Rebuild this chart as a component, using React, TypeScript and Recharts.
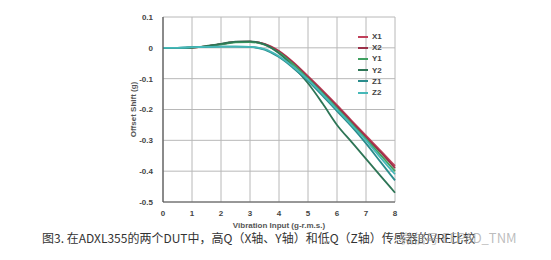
import React from 'react';
import { LineChart, Line, XAxis, YAxis, CartesianGrid, Label } from 'recharts';

const xValues = [0, 0.5, 1, 1.5, 2, 2.5, 3, 3.5, 4, 4.5, 5, 5.5, 6, 6.5, 7, 7.5, 8];
const x1 = [0, 0, 0.001, 0.005, 0.012, 0.019, 0.02, 0.013, -0.01, -0.047, -0.092, -0.138, -0.186, -0.236, -0.285, -0.333, -0.383];
const x2 = [0, 0, 0.001, 0.005, 0.012, 0.019, 0.02, 0.012, -0.012, -0.05, -0.095, -0.142, -0.19, -0.24, -0.29, -0.338, -0.39];
const y1 = [0, 0, 0.001, 0.005, 0.011, 0.018, 0.019, 0.01, -0.015, -0.054, -0.1, -0.147, -0.196, -0.246, -0.296, -0.347, -0.4];
const y2 = [0, 0, 0.001, 0.006, 0.013, 0.02, 0.021, 0.011, -0.018, -0.062, -0.115, -0.18, -0.25, -0.305, -0.36, -0.415, -0.47];
const z1 = [0, 0, 0.002, 0.003, 0.004, 0.004, 0.003, -0.006, -0.03, -0.066, -0.107, -0.155, -0.205, -0.255, -0.31, -0.37, -0.43];
const z2 = [0, 0, 0.002, 0.003, 0.004, 0.004, 0.003, -0.004, -0.027, -0.062, -0.103, -0.15, -0.2, -0.25, -0.3, -0.356, -0.41];

const seriesNames = ['X1', 'X2', 'Y1', 'Y2', 'Z1', 'Z2'];
const seriesValues = [x1, x2, y1, y2, z1, z2];
const seriesColors = ['#c0405a', '#9a3048', '#3fa060', '#2e7556', '#2a8c8c', '#46b8b8'];
const xTicks = [0, 1, 2, 3, 4, 5, 6, 7, 8];
const yTicks = [0.1, 0, -0.1, -0.2, -0.3, -0.4, -0.5];

const data = xValues.map((x, i) => {
  const row: Record<string, number> = { x };
  seriesNames.forEach((n, k) => {
    row[n] = seriesValues[k][i];
  });
  return row;
});

const font = 'Liberation Sans, Arial, sans-serif';
const tickStyle = { fontSize: 8, fontWeight: 700, fill: '#444', fontFamily: font };

export default function App() {
  return (
    <div style={{ position: 'absolute', left: 0, top: 0, width: 551, height: 260, background: '#fff' }}>
      <LineChart width={551} height={260} data={data} margin={{ top: 17, right: 156, bottom: 38, left: 127 }}>
        <CartesianGrid stroke="#b8b8b8" strokeWidth={1} />
        <XAxis
          dataKey="x"
          type="number"
          domain={[0, 8]}
          ticks={xTicks}
          interval={0}
          tick={tickStyle}
          tickLine={false}
          axisLine={{ stroke: '#555', strokeWidth: 1.2 }}
          height={20}
          tickMargin={2}
        >
          <Label value="Vibration Input (g-r.m.s.)" position="insideBottom" offset={-6} style={{ fontSize: 8, fontWeight: 700, fill: '#555', fontFamily: font }} />
        </XAxis>
        <YAxis
          type="number"
          domain={[-0.5, 0.1]}
          ticks={yTicks}
          interval={0}
          tick={tickStyle}
          tickLine={false}
          axisLine={{ stroke: '#555', strokeWidth: 1.2 }}
          width={36}
          tickMargin={4}
        >
          <Label value="Offset Shift (g)" angle={-90} position="insideLeft" offset={6} style={{ fontSize: 8, fontWeight: 700, fill: '#555', textAnchor: 'middle', fontFamily: font }} />
        </YAxis>
        {seriesNames.map((n, i) => (
          <Line
            key={n}
            type="monotone"
            dataKey={n}
            stroke={seriesColors[i]}
            strokeWidth={1.8}
            dot={false}
            isAnimationActive={false}
          />
        ))}
      </LineChart>
      <div style={{ position: 'absolute', left: 358, top: 31, fontFamily: font, fontSize: 8, fontWeight: 700, color: '#444' }}>
        {seriesNames.map((n, i) => (
          <div key={n} style={{ display: 'flex', alignItems: 'center', height: 11.2 }}>
            <div style={{ width: 10, height: 2, background: seriesColors[i], marginRight: 4 }} />
            <span>{n}</span>
          </div>
        ))}
      </div>
      <div
        style={{
          position: 'absolute',
          left: 42,
          top: 229,
          fontSize: 12,
          color: '#333',
          whiteSpace: 'nowrap',
          fontFamily: 'Noto Sans CJK SC, sans-serif',
        }}
      >
        图3. 在ADXL355的两个DUT中，高Q（X轴、Y轴）和低Q（Z轴）传感器的VRE比较
      </div>
      <div
        style={{
          position: 'absolute',
          left: 400,
          top: 228,
          fontSize: 13,
          color: 'rgba(160,160,160,0.7)',
          whiteSpace: 'nowrap',
          fontFamily: 'Noto Sans CJK SC, sans-serif',
        }}
      >
        微信号 EEPAD_TNM
      </div>
    </div>
  );
}
